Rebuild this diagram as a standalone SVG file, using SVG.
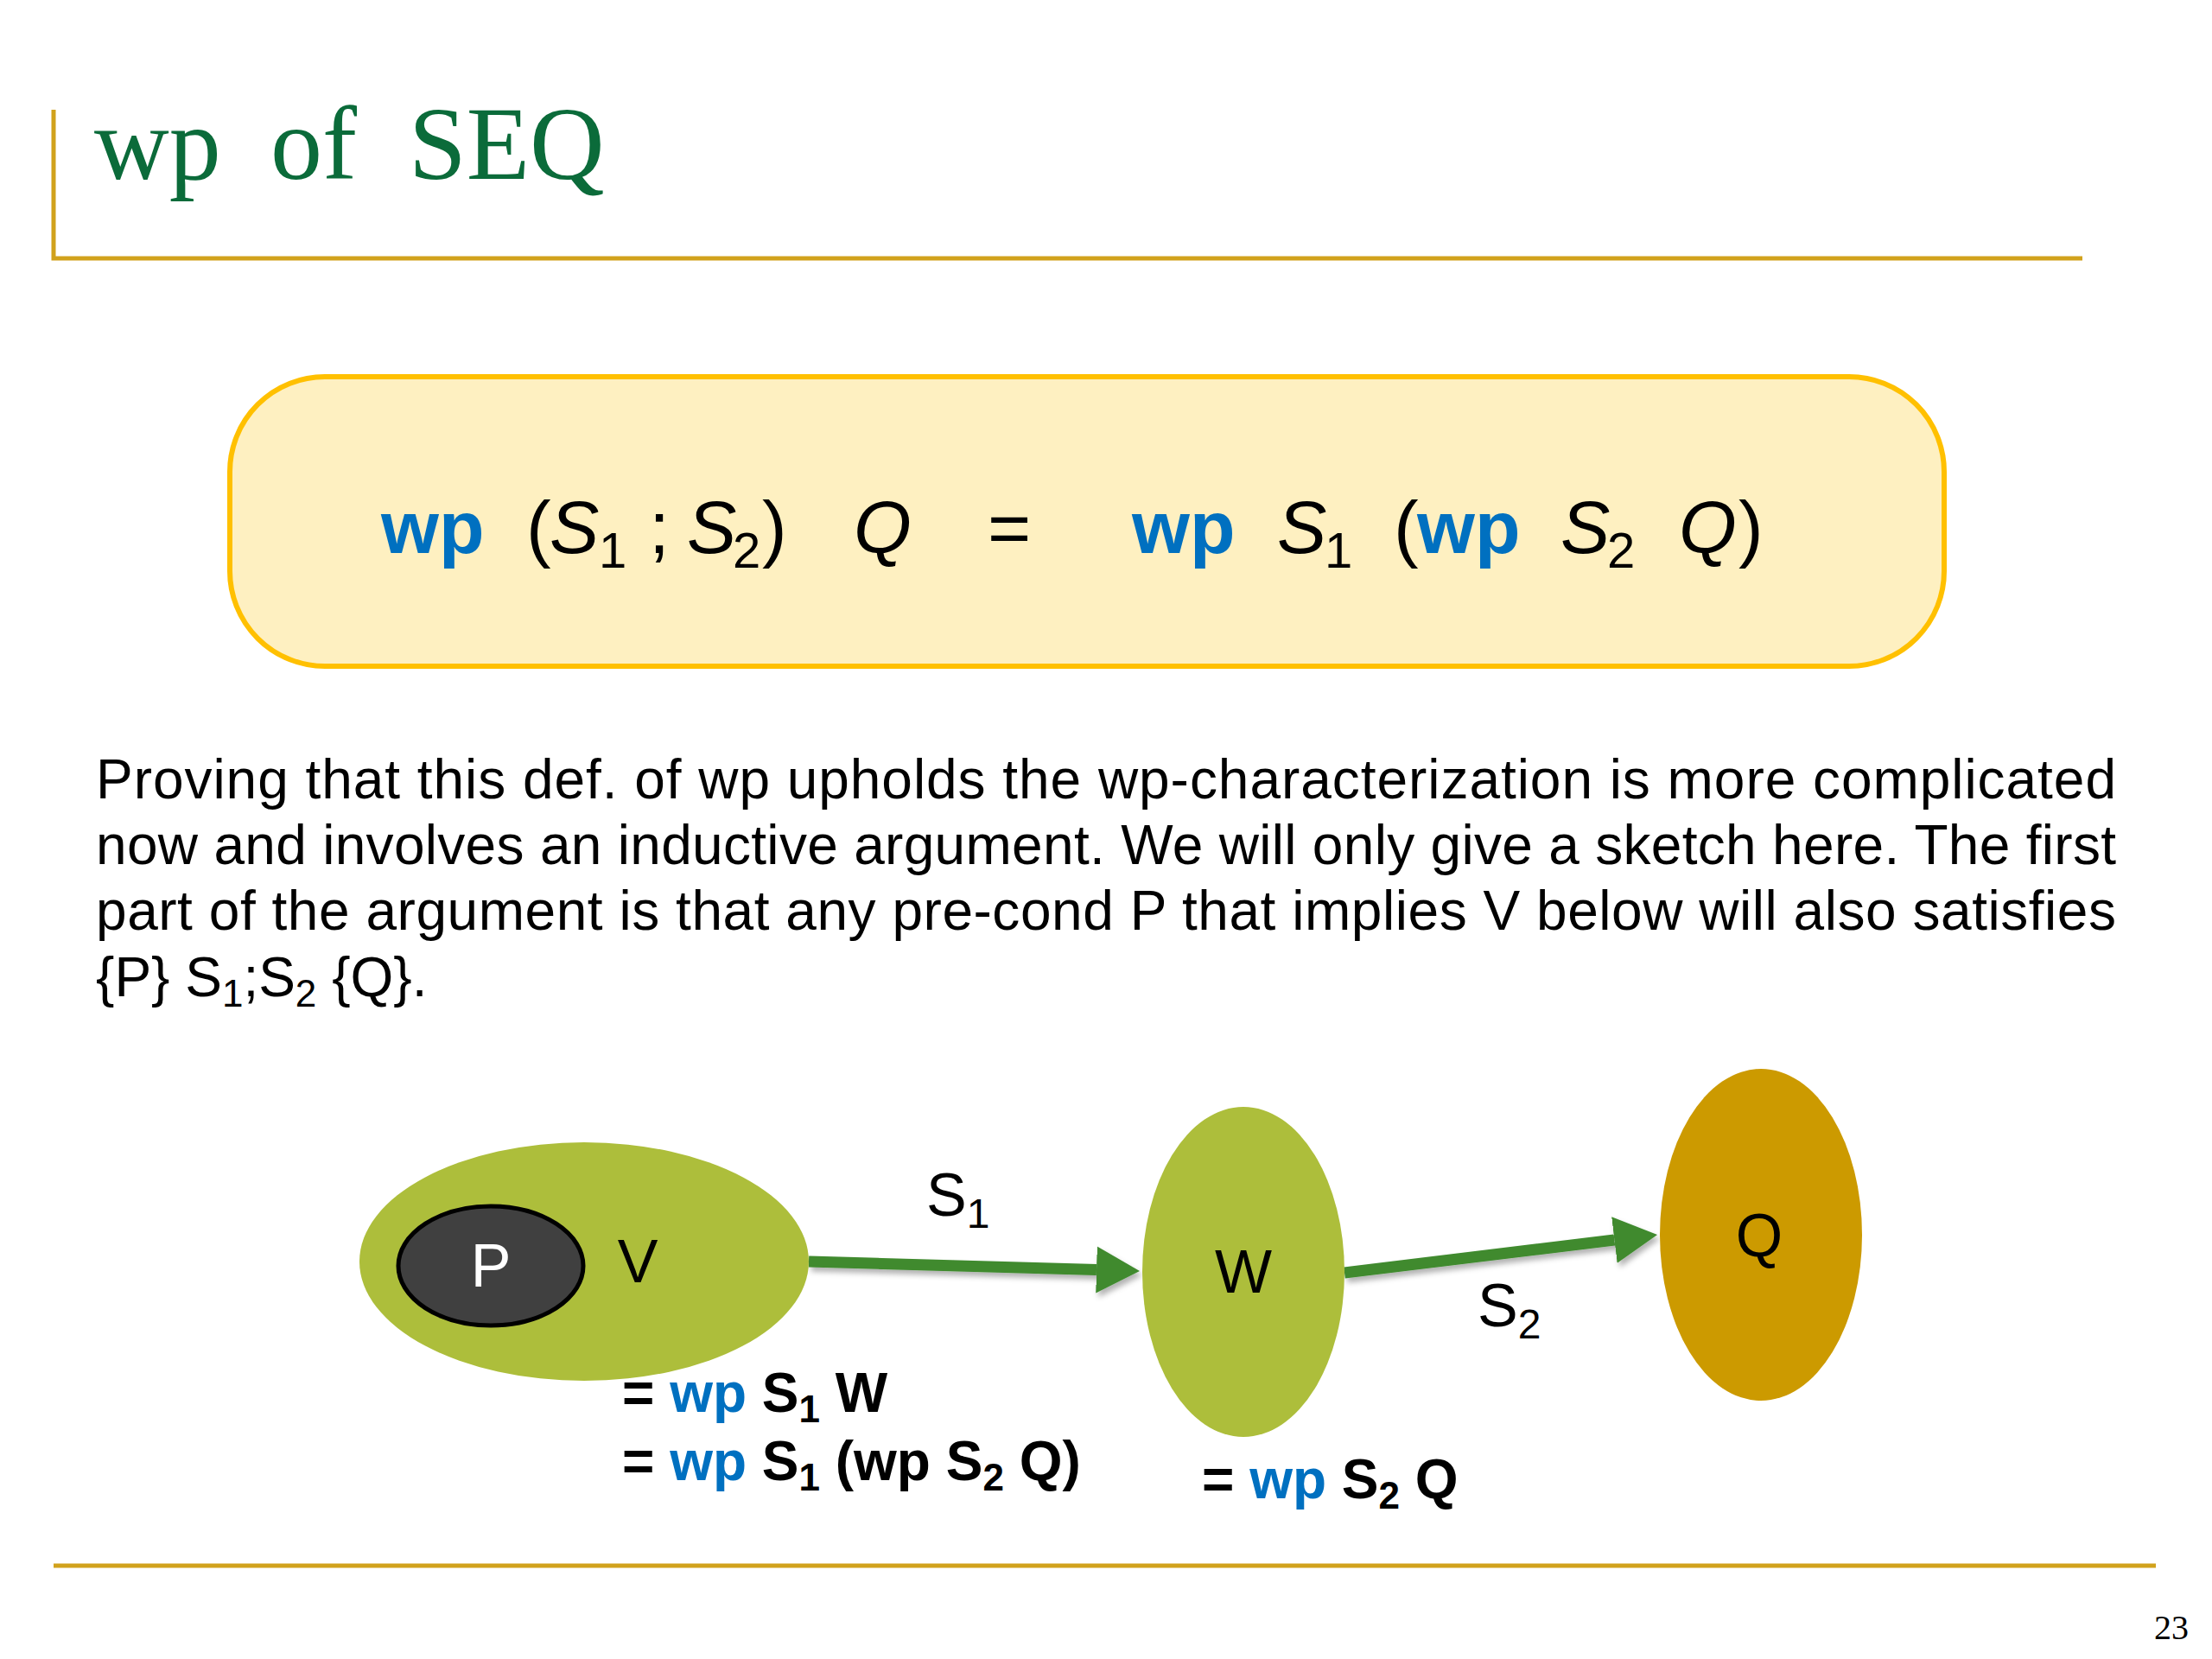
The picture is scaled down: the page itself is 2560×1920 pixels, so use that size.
<svg xmlns="http://www.w3.org/2000/svg" width="2560" height="1920" viewBox="0 0 2560 1920">
<style>
  .title { font-family: "Liberation Serif", "Times New Roman", serif; font-size: 120px; fill: #0B6B3A; }
  .rule { stroke: #D1A21C; stroke-width: 5; fill: none; }
  .formula { font-family: "Liberation Sans", Arial, sans-serif; font-size: 86px; fill: #000; }
  .kw { font-weight: bold; fill: #0070C0; font-style: normal; }
  .it { font-style: italic; }
  .sub { font-size: 58px; }
  .body { font-family: "Liberation Sans", Arial, sans-serif; font-size: 64px; fill: #000; }
  .lbl { font-family: "Liberation Sans", Arial, sans-serif; font-size: 70px; fill: #000; }
  .bold { font-family: "Liberation Sans", Arial, sans-serif; font-size: 64px; font-weight: bold; fill: #000; }
  .blue { fill: #0070C0; }
  .set { fill: #ADBE3B; }
  .arrow { stroke: #3F8A2E; stroke-width: 13; fill: none; marker-end: url(#head); }
  .page { font-family: "Liberation Serif", "Times New Roman", serif; font-size: 40px; fill: #000; }
</style>
<defs>
  <marker id="head" markerUnits="userSpaceOnUse" markerWidth="52" markerHeight="56" refX="0" refY="28" orient="auto">
    <path d="M0,1 L50,28 L0,55 z" fill="#3F8A2E"/>
  </marker>
  <filter id="shadow" filterUnits="userSpaceOnUse" x="880" y="1350" width="1100" height="200">
    <feDropShadow dx="3" dy="5" stdDeviation="3" flood-color="#000" flood-opacity="0.3"/>
  </filter>
</defs>
<rect width="2560" height="1920" fill="#FFFFFF"/>

<g id="title">
  <path class="rule" d="M62,127 L62,299 L2410,299"/>
  <text class="title" y="207"><tspan x="109">wp</tspan><tspan x="313">of</tspan><tspan x="473">SEQ</tspan></text>
</g>

<g id="formula-box">
  <rect x="266" y="436" width="1984" height="335" rx="110" ry="110" fill="#FEF0C1" stroke="#FFC000" stroke-width="6"/>
  <text class="formula" y="640">
    <tspan class="kw" x="441">wp</tspan>
    <tspan x="609">(</tspan><tspan class="it" x="636">S</tspan><tspan class="sub" x="693" dy="17">1</tspan>
    <tspan x="751" dy="-17">;</tspan><tspan class="it" x="795">S</tspan><tspan class="sub" x="848" dy="17">2</tspan><tspan x="882" dy="-17">)</tspan>
    <tspan class="it" x="988">Q</tspan>
    <tspan x="1143">=</tspan>
    <tspan class="kw" x="1310">wp</tspan>
    <tspan class="it" x="1478">S</tspan><tspan class="sub" x="1533" dy="17">1</tspan>
    <tspan x="1613" dy="-17">(</tspan><tspan class="kw" x="1640">wp</tspan>
    <tspan class="it" x="1806">S</tspan><tspan class="sub" x="1860" dy="17">2</tspan>
    <tspan class="it" x="1943" dy="-17">Q</tspan><tspan x="2012">)</tspan>
  </text>
</g>

<g id="paragraph">
  <text class="body" x="111" y="924" textLength="2338" lengthAdjust="spacing">Proving that this def. of wp upholds the wp-characterization is more complicated</text>
  <text class="body" x="111" y="1000" textLength="2338" lengthAdjust="spacing">now and involves an inductive argument. We will only give a sketch here. The first</text>
  <text class="body" x="111" y="1076" textLength="2338" lengthAdjust="spacing">part of the argument is that any pre-cond P that implies V below will also satisfies</text>
  <text class="body" x="111" y="1153">{P} S<tspan font-size="44" dy="12">1</tspan><tspan dy="-12">;S</tspan><tspan font-size="44" dy="12">2</tspan><tspan dy="-12"> {Q}.</tspan></text>
</g>

<g id="connectors">
  <g filter="url(#shadow)">
    <line class="arrow" x1="936" y1="1460" x2="1269" y2="1469.6"/>
    <line class="arrow" x1="1556" y1="1473" x2="1868.4" y2="1435"/>
  </g>
  <text class="lbl" x="1072" y="1407">S<tspan font-size="48" dy="14">1</tspan></text>
  <text class="lbl" x="1710" y="1535">S<tspan font-size="48" dy="14">2</tspan></text>
</g>

<g id="node-V">
  <ellipse class="set" cx="676" cy="1460" rx="260" ry="138"/>
  <text class="lbl" x="738" y="1484" text-anchor="middle">V</text>
</g>

<g id="node-P">
  <ellipse cx="568" cy="1465" rx="107" ry="69" fill="#404040" stroke="#000" stroke-width="5"/>
  <text class="lbl" x="568" y="1489" text-anchor="middle" style="fill:#FFFFFF">P</text>
</g>

<g id="node-W">
  <ellipse class="set" cx="1439" cy="1472" rx="117" ry="191"/>
  <text class="lbl" x="1439" y="1496" text-anchor="middle">W</text>
</g>

<g id="node-Q">
  <ellipse cx="2038" cy="1429" rx="117" ry="192" fill="#CC9A00"/>
  <text class="lbl" x="2036" y="1454" text-anchor="middle">Q</text>
</g>

<g id="labels">
  <text class="bold" x="720" y="1634">= <tspan class="blue">wp</tspan> S<tspan font-size="44" dy="12">1</tspan><tspan dy="-12"> W</tspan></text>
  <text class="bold" x="720" y="1713">= <tspan class="blue">wp</tspan> S<tspan font-size="44" dy="12">1</tspan><tspan dy="-12"> (wp S</tspan><tspan font-size="44" dy="12">2</tspan><tspan dy="-12"> Q)</tspan></text>
  <text class="bold" x="1391" y="1734">= <tspan class="blue">wp</tspan> S<tspan font-size="44" dy="12">2</tspan><tspan dy="-12"> Q</tspan></text>
</g>

<g id="footer">
  <line class="rule" x1="62" y1="1812" x2="2495" y2="1812"/>
  <text class="page" x="2493" y="1897">23</text>
</g>
</svg>
